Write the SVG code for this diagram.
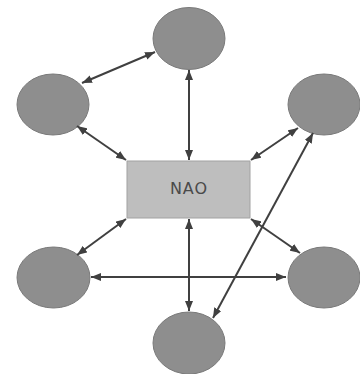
<svg xmlns="http://www.w3.org/2000/svg" width="360" height="374" viewBox="0 0 360 374">
  <style>
    .node { fill: #8e8e8e; stroke: #7a7a7a; stroke-width: 1; }
    .hub { fill: #bebebe; stroke: #a2a2a2; stroke-width: 1; }
    .label { font-family: "DejaVu Sans", "Liberation Sans", sans-serif; font-size: 16px; letter-spacing: 1px; fill: #4a4a4a; text-anchor: middle; dominant-baseline: central; }
    .link { stroke: #404040; stroke-width: 2; fill: none; marker-start: url(#tip); marker-end: url(#tip); }
  </style>
  <defs>
    <marker id="tip" viewBox="0 0 10 8" refX="10" refY="4" markerWidth="10" markerHeight="8" markerUnits="userSpaceOnUse" orient="auto-start-reverse">
      <path d="M0,0 L10,4 L0,8 z" fill="#404040"/>
    </marker>
  </defs>
  <rect width="360" height="374" fill="#ffffff"/>

  <g id="top"><ellipse class="node" cx="189" cy="38.5" rx="36" ry="31"/></g>
  <g id="upper-left"><ellipse class="node" cx="53" cy="104.5" rx="36" ry="30.5"/></g>
  <g id="upper-right"><ellipse class="node" cx="324" cy="104.5" rx="36" ry="30.5"/></g>
  <g id="lower-left"><ellipse class="node" cx="53.5" cy="277.5" rx="36.5" ry="30.5"/></g>
  <g id="lower-right"><ellipse class="node" cx="324" cy="277.5" rx="36" ry="30.5"/></g>
  <g id="bottom"><ellipse class="node" cx="189" cy="343" rx="36" ry="31"/></g>
  <g id="nao">
    <rect class="hub" x="127" y="161" width="123" height="57"/>
    <text class="label" x="189" y="188.5">NAO</text>
  </g>

  <g id="connectors">
    <line class="link" x1="155" y1="52" x2="82" y2="83"/>
    <line class="link" x1="77" y1="126" x2="126" y2="160"/>
    <line class="link" x1="189" y1="70" x2="189" y2="160"/>
    <line class="link" x1="298" y1="128" x2="251" y2="160"/>
    <line class="link" x1="313" y1="133" x2="213" y2="318"/>
    <line class="link" x1="251" y1="219" x2="300" y2="253"/>
    <line class="link" x1="189" y1="219" x2="189" y2="311"/>
    <line class="link" x1="91" y1="277" x2="286" y2="277"/>
    <line class="link" x1="126" y1="219" x2="77" y2="255"/>
  </g>
</svg>
